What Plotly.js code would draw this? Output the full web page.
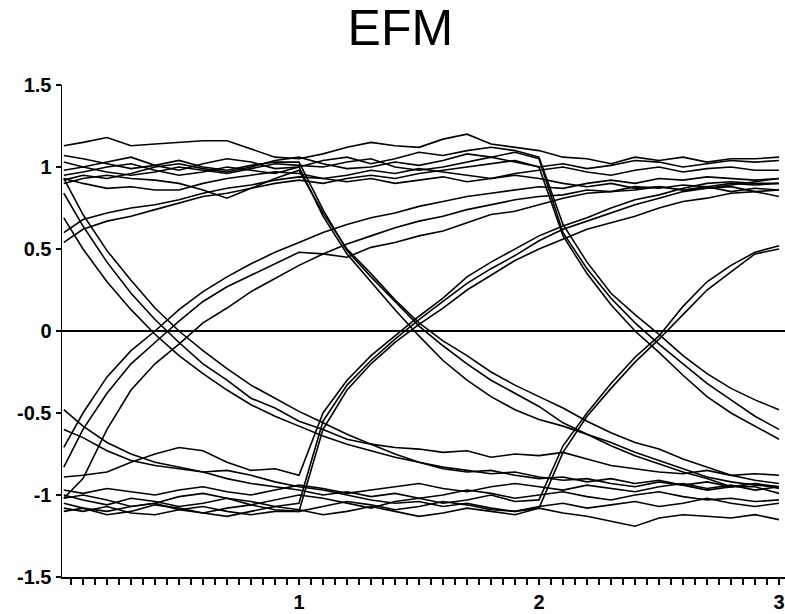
<!DOCTYPE html>
<html><head><meta charset="utf-8">
<script src="https://cdn.plot.ly/plotly-3.0.1.min.js"></script>
<style>html,body{margin:0;padding:0;background:#fff}#chart{width:785px;height:614px}</style>
</head><body><div id="chart"></div>
<script>
// time axis (bit periods)
const timeAxis = [0.02,0.1,0.2,0.3,0.4,0.5,0.6,0.7,0.8,0.9,1.0,1.1,1.2,1.3,1.4,1.5,1.6,1.7,1.8,1.9,2.0,2.1,2.2,2.3,2.4,2.5,2.6,2.7,2.8,2.9,3.0];

// individual sweeps of the eye pattern (amplitude)
const trace01 = [1.13,1.15,1.18,1.13,1.14,1.15,1.16,1.16,1.11,1.06,1.05,1.08,1.12,1.15,1.13,1.12,1.17,1.2,1.14,1.12,1.1,1.06,1.05,1.02,1.06,1.04,1.06,1.03,1.05,1.05,1.06];
const trace02 = [1.07,1.05,1.02,0.99,1.01,1.04,1.0,0.98,1.01,1.03,1.03,0.74,0.49,0.33,0.18,0.03,-0.09,-0.2,-0.3,-0.38,-0.46,-0.56,-0.63,-0.7,-0.76,-0.81,-0.86,-0.9,-0.95,-0.95,-0.99];
const trace03 = [1.03,1.0,1.03,1.06,1.01,0.98,1.02,1.05,1.03,0.99,1.0,1.04,1.06,1.02,1.05,1.09,1.07,1.1,1.12,1.1,1.06,0.65,0.42,0.23,0.1,-0.02,-0.15,-0.26,-0.35,-0.42,-0.48];
const trace04 = [0.98,1.0,0.97,0.95,0.97,1.0,0.98,0.96,0.99,1.02,1.01,1.0,1.03,1.05,1.0,0.98,1.0,1.03,1.06,1.03,1.0,1.02,0.99,1.01,1.04,1.03,1.0,1.02,1.04,1.03,1.04];
const trace05 = [0.95,0.97,1.0,1.02,0.98,0.95,0.97,1.0,0.98,0.96,1.0,0.7,0.47,0.3,0.13,-0.03,-0.18,-0.3,-0.4,-0.48,-0.54,-0.58,-0.63,-0.68,-0.74,-0.79,-0.84,-0.89,-0.92,-0.94,-0.95];
const trace06 = [0.93,0.9,0.87,0.88,0.86,0.86,0.9,0.93,0.95,0.97,0.96,0.93,0.95,0.98,0.96,0.99,0.97,0.95,0.93,0.96,0.98,1.0,0.97,0.95,0.98,1.0,0.97,0.99,1.0,0.98,0.98];
const trace07 = [0.92,0.95,0.93,0.96,1.0,1.02,0.99,0.97,1.0,1.04,1.06,1.02,0.99,1.0,1.03,1.01,1.04,1.08,1.06,1.09,1.05,0.6,0.38,0.2,0.05,-0.08,-0.2,-0.32,-0.42,-0.52,-0.6];
const trace08 = [0.9,0.93,0.95,0.93,0.92,0.9,0.86,0.81,0.87,0.93,0.98,0.72,0.5,0.35,0.19,0.05,-0.06,-0.15,-0.25,-0.33,-0.4,-0.47,-0.55,-0.62,-0.68,-0.72,-0.78,-0.83,-0.88,-0.91,-0.93];
const trace09 = [0.84,0.64,0.42,0.23,0.07,-0.07,-0.2,-0.3,-0.41,-0.47,-0.55,-0.6,-0.66,-0.69,-0.71,-0.72,-0.74,-0.73,-0.77,-0.75,-0.76,-0.74,-0.78,-0.82,-0.84,-0.86,-0.87,-0.85,-0.88,-0.87,-0.88];
const trace10 = [0.69,0.5,0.3,0.13,-0.02,-0.15,-0.26,-0.36,-0.45,-0.52,-0.58,-0.64,-0.69,-0.73,-0.77,-0.8,-0.83,-0.85,-0.87,-0.86,-0.89,-0.91,-0.9,-0.93,-0.95,-0.92,-0.94,-0.97,-0.95,-0.93,-0.96];
const trace11 = [0.6,0.68,0.72,0.75,0.77,0.8,0.84,0.87,0.89,0.92,0.94,0.93,0.91,0.93,0.9,0.92,0.94,0.91,0.93,0.95,0.93,0.9,0.88,0.9,0.87,0.88,0.86,0.88,0.85,0.87,0.86];
const trace12 = [0.54,0.62,0.67,0.7,0.74,0.78,0.82,0.84,0.87,0.9,0.92,0.9,0.93,0.95,0.93,0.96,0.98,1.0,1.02,1.04,1.0,0.58,0.35,0.16,0.0,-0.13,-0.27,-0.4,-0.5,-0.58,-0.66];
const trace13 = [-0.48,-0.58,-0.68,-0.75,-0.8,-0.83,-0.86,-0.9,-0.93,-0.95,-0.97,-1.0,-0.98,-1.01,-0.99,-1.02,-1.0,-0.97,-0.99,-1.02,-1.0,-0.98,-1.01,-1.03,-1.0,-0.98,-1.01,-1.03,-1.02,-1.04,-1.03];
const trace14 = [-0.6,-0.65,-0.73,-0.79,-0.82,-0.84,-0.86,-0.85,-0.88,-0.92,-0.95,-0.97,-1.0,-1.03,-1.05,-1.04,-1.07,-1.05,-1.08,-1.1,-1.08,-1.11,-1.13,-1.16,-1.19,-1.14,-1.12,-1.13,-1.14,-1.12,-1.15];
const trace15 = [-0.71,-0.5,-0.28,-0.12,0.0,0.13,0.24,0.33,0.41,0.48,0.54,0.6,0.65,0.69,0.72,0.76,0.79,0.82,0.84,0.86,0.88,0.87,0.9,0.92,0.9,0.93,0.92,0.94,0.93,0.92,0.93];
const trace16 = [-0.83,-0.6,-0.38,-0.2,-0.07,0.06,0.18,0.27,0.34,0.41,0.48,0.47,0.45,0.51,0.54,0.58,0.61,0.66,0.71,0.73,0.77,0.81,0.84,0.85,0.86,0.88,0.86,0.87,0.88,0.85,0.82];
const trace17 = [-1.02,-0.9,-0.6,-0.36,-0.2,-0.08,0.05,0.14,0.24,0.32,0.4,0.47,0.53,0.58,0.63,0.67,0.7,0.74,0.77,0.8,0.82,0.83,0.86,0.85,0.88,0.87,0.89,0.88,0.9,0.89,0.9];
const trace18 = [-0.89,-0.88,-0.86,-0.8,-0.75,-0.71,-0.73,-0.8,-0.85,-0.84,-0.88,-0.5,-0.3,-0.15,-0.03,0.09,0.2,0.33,0.42,0.5,0.58,0.64,0.69,0.75,0.8,0.83,0.87,0.9,0.91,0.9,0.9];
const trace19 = [-0.97,-0.99,-0.96,-0.98,-1.0,-0.97,-0.95,-0.98,-1.0,-0.97,-0.94,-0.96,-0.99,-0.97,-0.95,-0.93,-0.96,-0.98,-0.95,-0.93,-0.95,-0.97,-0.94,-0.96,-0.98,-0.95,-0.93,-0.96,-0.94,-0.97,-0.95];
const trace20 = [-1.0,-1.03,-1.06,-1.02,-1.04,-1.07,-1.05,-1.02,-1.04,-1.07,-1.05,-0.55,-0.33,-0.18,-0.05,0.07,0.18,0.29,0.38,0.46,0.55,0.62,0.67,0.72,0.77,0.81,0.85,0.87,0.89,0.91,0.93];
const trace21 = [-1.02,-1.0,-1.03,-1.07,-1.05,-1.01,-0.99,-1.02,-1.06,-1.03,-1.0,-1.02,-1.05,-1.08,-1.04,-1.02,-1.05,-1.03,-1.0,-1.04,-1.03,-0.7,-0.5,-0.32,-0.16,-0.03,0.15,0.3,0.4,0.48,0.52];
const trace22 = [-1.05,-1.08,-1.1,-1.07,-1.05,-1.09,-1.11,-1.08,-1.06,-1.09,-1.1,-1.07,-1.04,-1.06,-1.09,-1.07,-1.04,-1.06,-1.09,-1.1,-1.07,-1.05,-1.08,-1.06,-1.04,-1.07,-1.05,-1.02,-1.05,-1.07,-1.05];
const trace23 = [-1.08,-1.1,-1.07,-1.11,-1.12,-1.09,-1.07,-1.1,-1.12,-1.1,-1.1,-0.6,-0.36,-0.2,-0.07,0.04,0.14,0.25,0.34,0.43,0.5,0.56,0.62,0.66,0.7,0.75,0.79,0.81,0.84,0.85,0.86];
const trace24 = [-1.1,-1.08,-1.12,-1.1,-1.06,-1.08,-1.11,-1.13,-1.1,-1.07,-1.09,-1.12,-1.1,-1.07,-1.1,-1.13,-1.11,-1.08,-1.1,-1.12,-1.08,-0.74,-0.52,-0.35,-0.19,-0.05,0.1,0.25,0.36,0.47,0.5];
const trace25 = [0.93,0.71,0.49,0.31,0.14,0.0,-0.12,-0.23,-0.33,-0.41,-0.49,-0.56,-0.63,-0.69,-0.75,-0.8,-0.84,-0.86,-0.85,-0.88,-0.9,-0.89,-0.92,-0.9,-0.93,-0.91,-0.94,-0.92,-0.95,-0.93,-0.95];

const sweeps = [trace01,trace02,trace03,trace04,trace05,trace06,trace07,trace08,trace09,trace10,
  trace11,trace12,trace13,trace14,trace15,trace16,trace17,trace18,trace19,trace20,
  trace21,trace22,trace23,trace24,trace25];

// axis ticks
const yTickVals = [-1.5,-1,-0.5,0,0.5,1,1.5];
const yTickText = ['-1.5','-1','-0.5','0','0.5','1','1.5'];
const xRange = [0.0125, 3.025];
const yRange = [-1.5, 1.5];

const data = sweeps.map(function (ys) {
  return {x: timeAxis, y: ys, type: 'scatter', mode: 'lines',
    line: {color: '#000', width: 1.6}, hoverinfo: 'skip', showlegend: false};
});

const tickFont = {family: 'Liberation Sans, Arial, sans-serif', size: 20, color: '#000', weight: 'bold'};

const layout = {
  width: 785, height: 614,
  margin: {l: 62, r: 0, t: 85, b: 37},
  paper_bgcolor: '#fff', plot_bgcolor: '#fff',
  showlegend: false,
  title: {text: 'EFM', font: {family: 'Liberation Sans, Arial, sans-serif', size: 50, color: '#000'},
    x: 0.51, xanchor: 'center', xref: 'container', y: 0.955, yanchor: 'middle', yref: 'container'},
  xaxis: {range: xRange, tickmode: 'linear', tick0: 0, dtick: 1, ticks: 'outside', ticklen: 6,
    tickwidth: 1.2, tickcolor: '#000', showline: true, linecolor: '#000', linewidth: 1.5,
    showgrid: false, zeroline: false, tickfont: tickFont,
    minor: {tick0: 0, dtick: 0.05, ticks: 'outside', ticklen: 6, tickwidth: 1.2, tickcolor: '#000', showgrid: false}},
  yaxis: {range: yRange, tickmode: 'array', tickvals: yTickVals, ticktext: yTickText,
    ticks: 'outside', ticklen: 5, tickwidth: 1.2, tickcolor: '#000', showline: true,
    linecolor: '#000', linewidth: 1.5, showgrid: false, zeroline: true, zerolinecolor: '#000',
    zerolinewidth: 1.5, tickfont: tickFont}
};

Plotly.newPlot('chart', data, layout, {staticPlot: true, displayModeBar: false});
</script>
</body></html>
